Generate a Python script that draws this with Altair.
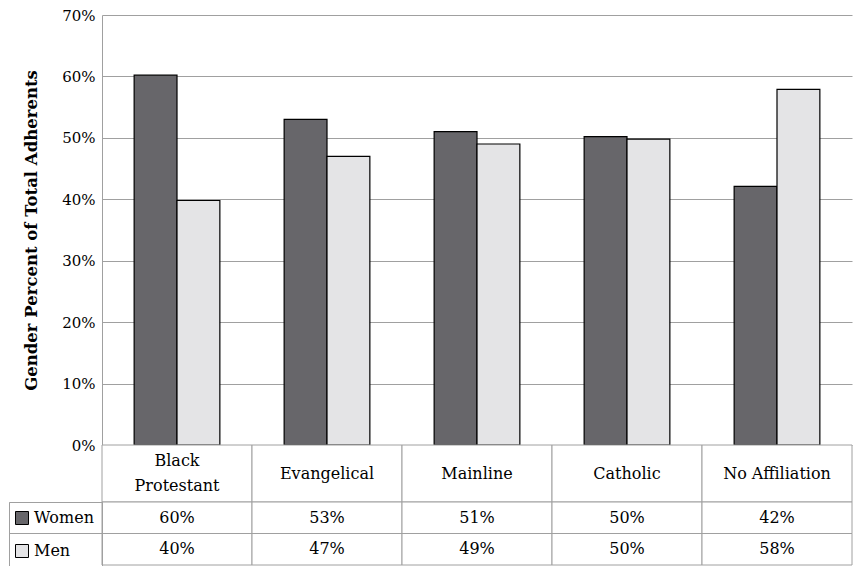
import altair as alt
import pandas as pd

categories = ["Black Protestant", "Evangelical", "Mainline", "Catholic", "No Affiliation"]
header_labels = ["Black\nProtestant", "Evangelical", "Mainline", "Catholic", "No Affiliation"]
genders = ["Women", "Men"]
women = [60.2, 53.0, 51.0, 50.2, 42.1]
men = [39.8, 47.0, 49.0, 49.8, 57.9]
y_ticks = [0, 0.1, 0.2, 0.3, 0.4, 0.5, 0.6, 0.7]

rows = []
for c, h, w, m in zip(categories, header_labels, women, men):
    rows.append({"category": c, "header": h, "gender": "Women", "value": w / 100})
    rows.append({"category": c, "header": h, "gender": "Men", "value": m / 100})
df = pd.DataFrame(rows)
hdr = pd.DataFrame({"category": categories, "header": header_labels})

FONT = "DejaVu Serif"
GRID = "#a0a0a0"
DARK = "#67666a"
LIGHT = "#e4e4e6"
W = 750
LEFT = 93

xband = alt.Scale(paddingInner=0, paddingOuter=0)

color = alt.Color(
    "gender:N",
    scale=alt.Scale(domain=genders, range=[DARK, LIGHT]),
    legend=alt.Legend(
        title=None, orient="none", legendX=-LEFT, legendY=487,
        symbolType="square", symbolSize=169, symbolStrokeColor="black",
        symbolStrokeWidth=1, symbolOpacity=1, symbolOffset=-3,
        labelFont=FONT, labelFontSize=16, labelColor="black", labelOffset=4,
        rowPadding=15, padding=8, strokeColor=GRID,
    ),
)

bars = alt.Chart(df).mark_bar(stroke="black", strokeWidth=1.2).encode(
    x=alt.X("category:N", sort=categories, axis=None, scale=xband),
    xOffset=alt.XOffset("gender:N", sort=genders,
                        scale=alt.Scale(paddingOuter=0.75, paddingInner=0)),
    y=alt.Y("value:Q", scale=alt.Scale(domain=[0, 0.7], nice=False),
            axis=alt.Axis(format=".0%", values=y_ticks,
                          title="Gender Percent of Total Adherents",
                          titleFont=FONT, titleFontSize=16.5, titleFontWeight="bold",
                          titleColor="black", titlePadding=22,
                          labelFont=FONT, labelFontSize=15, labelColor="black",
                          labelPadding=7, ticks=False,
                          domainColor=GRID, gridColor=GRID)),
    color=color,
).properties(width=W, height=430)

hdr_cells = alt.Chart(hdr).mark_rect(fill="white", stroke=GRID, strokeWidth=1).encode(
    x=alt.X("category:N", sort=categories, axis=None, scale=xband),
)
hdr_x = alt.X("category:N", sort=categories, axis=None, scale=xband)
hdr_text_two = alt.Chart(hdr).transform_filter(
    "indexof(datum.header, '\\n') >= 0"
).mark_text(font=FONT, fontSize=16, lineBreak="\n", lineHeight=25,
            baseline="middle", dy=-12.5, color="black").encode(
    x=hdr_x, text="header:N",
)
hdr_text_one = alt.Chart(hdr).transform_filter(
    "indexof(datum.header, '\\n') < 0"
).mark_text(font=FONT, fontSize=16, baseline="middle", color="black").encode(
    x=hdr_x, text="header:N",
)
header_chart = alt.layer(hdr_cells, hdr_text_two, hdr_text_one).properties(width=W, height=57)

val_y = alt.Y("gender:N", sort=genders, scale=alt.Scale(paddingInner=0, paddingOuter=0),
              axis=alt.Axis(title=None, labels=False, domain=False, grid=False,
                            ticks=True, tickSize=LEFT, tickColor=GRID, bandPosition=0))
val_cells = alt.Chart(df).mark_rect(fill="white", stroke=GRID, strokeWidth=1).encode(
    x=alt.X("category:N", sort=categories, axis=None, scale=xband),
    y=val_y,
)
val_text = alt.Chart(df).mark_text(font=FONT, fontSize=16, baseline="middle",
                                   color="black").encode(
    x=alt.X("category:N", sort=categories, axis=None, scale=xband),
    y=val_y,
    text=alt.Text("value:Q", format=".0%"),
)
values_chart = alt.layer(val_cells, val_text).properties(width=W, height=63)

chart = alt.vconcat(bars, header_chart, values_chart, spacing=0, bounds="flush").resolve_scale(
    x="independent", y="independent"
).properties(padding=0).configure_view(stroke=None).configure_legend(
    strokeColor=GRID, strokeWidth=1
)

chart.save("out.html", embed_options={"renderer": "svg", "actions": False})
